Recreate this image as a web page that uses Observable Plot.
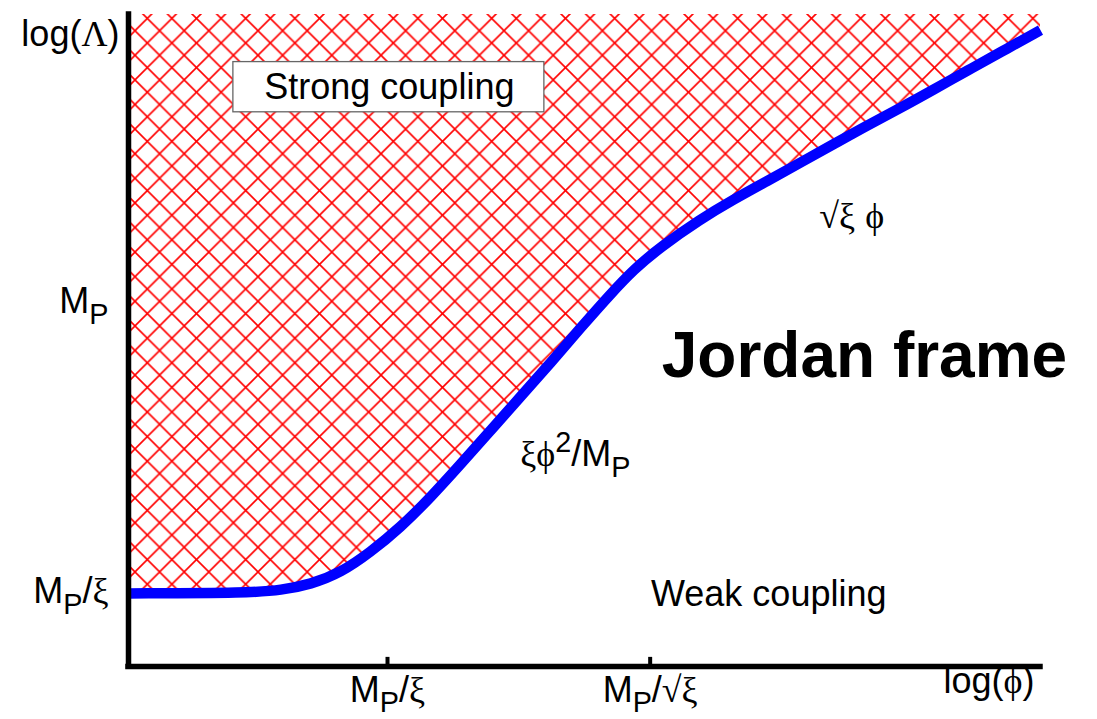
<!DOCTYPE html>
<html>
<head>
<meta charset="utf-8">
<script src="https://cdn.jsdelivr.net/npm/d3@7"></script>
<script src="https://cdn.jsdelivr.net/npm/@observablehq/plot@0.6"></script>
<style>
  html, body { margin: 0; padding: 0; background: #fff; }
  #chart svg { display: block; }
</style>
</head>
<body>
<div id="chart"></div>
<script>
// Cut-off scale Λ as a function of the field ϕ (both logarithmic, arbitrary units)
const curveX = [0, 1.34, 1.67, 2.00, 2.33, 2.65, 2.98, 3.31, 3.64, 3.97, 4.30, 4.63, 4.96, 5.29,
                5.54, 5.83, 6.27, 6.63, 7.01, 7.37, 7.73, 8.10, 8.47, 8.83, 9.20, 9.56, 10.0];
const curveY = [1.12, 1.13, 1.17, 1.26, 1.44, 1.75, 2.13, 2.59, 3.10, 3.62, 4.14, 4.66, 5.20, 5.72,
                6.09, 6.43, 6.86, 7.16, 7.45, 7.73, 8.01, 8.30, 8.57, 8.85, 9.14, 9.42, 9.76];

// Axis ticks and labels ("_" = subscript, "^" = superscript)
const xTickValues = [2.84, 5.72];
const xTickLabels = ["M_P/ξ", "M_P/√ξ"];
const yTickValues = [1.15, 5.60];
const yTickLabels = ["M_P/ξ", "M_P"];
const xTitle = "log(ϕ)";
const yTitle = "log(Λ)";
const yTitleValue = 9.69;

// Region annotations
const regionLabels = ["Strong coupling", "Weak coupling"];
const regionX = [2.86, 7.02];
const regionY = [8.88, 1.10];
const boxX = [1.15, 4.56];
const boxY = [8.50, 9.27];
const frameLabel = ["Jordan frame"];
const frameX = [8.07];
const frameY = [4.76];
const branchLabels = ["ξϕ^2/M_P", "√ξ ϕ"];
const branchX = [4.90, 7.93];
const branchY = [3.25, 6.90];

const curve = curveX.map((x, i) => ({x, y: curveY[i]}));
const yTop = 10;
const tickLen = 0.14;

const NS = "http://www.w3.org/2000/svg";
const SANS = "'Liberation Sans', Arial, Helvetica, sans-serif";
const SERIF = "'Liberation Serif', 'Times New Roman', 'DejaVu Serif', serif";

// Red cross-hatch pattern used for the strong-coupling region
function hatchDefs() {
  const w = 24.6;
  const defs = document.createElementNS(NS, "defs");
  const pat = document.createElementNS(NS, "pattern");
  pat.setAttribute("id", "hatch");
  pat.setAttribute("patternUnits", "userSpaceOnUse");
  pat.setAttribute("x", 135);
  pat.setAttribute("y", 30.7);
  pat.setAttribute("width", w);
  pat.setAttribute("height", w);
  const path = document.createElementNS(NS, "path");
  path.setAttribute("d",
    `M-1,1L1,-1M0,${w}L${w},0M${w - 1},${w + 1}L${w + 1},${w - 1}` +
    `M-1,${w - 1}L1,${w + 1}M0,0L${w},${w}M${w - 1},-1L${w + 1},1`);
  path.setAttribute("stroke", "#ff0000");
  path.setAttribute("stroke-width", 1.6);
  path.setAttribute("fill", "none");
  pat.appendChild(path);
  defs.appendChild(pat);
  return defs;
}

const chart = Plot.plot({
  width: 1097,
  height: 719,
  marginLeft: 128,
  marginRight: 57,
  marginTop: 14,
  marginBottom: 53,
  x: {domain: [0, 10], axis: null},
  y: {domain: [0, 10], axis: null},
  style: {fontFamily: SANS, background: "#fff", color: "#000"},
  marks: [
    hatchDefs,
    Plot.areaY(curve, {x: "x", y1: "y", y2: yTop, fill: "url(#hatch)", curve: "basis"}),
    Plot.line(curve, {x: "x", y: "y", stroke: "#0000ff", strokeWidth: 10.5,
                      strokeLinecap: "butt", curve: "basis"}),
    Plot.rect([{x1: boxX[0], x2: boxX[1], y1: boxY[0], y2: boxY[1]}],
              {x1: "x1", x2: "x2", y1: "y1", y2: "y2", fill: "#fff", stroke: "#666", strokeWidth: 1.3}),
    Plot.text(regionLabels, {x: (d, i) => regionX[i], y: (d, i) => regionY[i], text: d => d,
                             fontSize: 36, fill: "#000"}),
    Plot.text(frameLabel, {x: (d, i) => frameX[i], y: (d, i) => frameY[i], text: d => d,
                           fontSize: 64, fontWeight: "bold", fill: "#000"}),
    Plot.text(branchLabels, {x: (d, i) => branchX[i], y: (d, i) => branchY[i], text: d => d,
                             fontSize: 36, fill: "#000"}),
    // axes
    Plot.ruleY([0], {stroke: "#000", strokeWidth: 5.5, strokeLinecap: "square"}),
    Plot.ruleX([0], {stroke: "#000", strokeWidth: 5.5, strokeLinecap: "square"}),
    Plot.ruleX(xTickValues, {y1: 0, y2: tickLen, stroke: "#000", strokeWidth: 4}),
    Plot.text(xTickLabels, {x: (d, i) => xTickValues[i], frameAnchor: "bottom", dy: 35,
                            text: d => d, fontSize: 36, fill: "#000"}),
    Plot.text(yTickLabels, {x: 0, y: (d, i) => yTickValues[i], textAnchor: "end", dx: -20,
                            text: d => d, fontSize: 36, fill: "#000"}),
    Plot.text([xTitle], {x: 10, frameAnchor: "bottom", dy: 26, dx: -6, textAnchor: "end",
                         text: d => d, fontSize: 36, fill: "#000"}),
    Plot.text([yTitle], {x: 0, y: yTitleValue, textAnchor: "end", dx: -9,
                         text: d => d, fontSize: 36, fill: "#000"})
  ]
});

// Turn "_X" / "^X" into sub/superscripts and set Greek letters in a serif face
function richText(el) {
  const s = el.textContent;
  if (!/[_^ξϕΛ√]/.test(s)) return;
  const base = parseFloat(getComputedStyle(el).fontSize) || 36;
  const runs = [];
  for (let i = 0; i < s.length; i++) {
    let ch = s[i], level = 0;
    if ((ch === "_" || ch === "^") && i + 1 < s.length) {
      level = ch === "_" ? 1 : -1;
      ch = s[++i];
    }
    const serif = /[ξϕΛ√]/.test(ch);
    const last = runs[runs.length - 1];
    if (last && last.level === level && last.serif === serif) last.text += ch;
    else runs.push({text: ch, level, serif});
  }
  el.textContent = "";
  let offset = 0;
  for (const r of runs) {
    const t = document.createElementNS(NS, "tspan");
    const target = r.level === 1 ? base * 0.3 : r.level === -1 ? -base * 0.4 : 0;
    if (target !== offset) t.setAttribute("dy", target - offset);
    offset = target;
    if (r.level) t.setAttribute("font-size", base * 0.8);
    if (r.serif) t.setAttribute("font-family", SERIF);
    t.textContent = r.text;
    el.appendChild(t);
  }
}

document.getElementById("chart").appendChild(chart);
chart.querySelectorAll("text").forEach(richText);
</script>
</body>
</html>
